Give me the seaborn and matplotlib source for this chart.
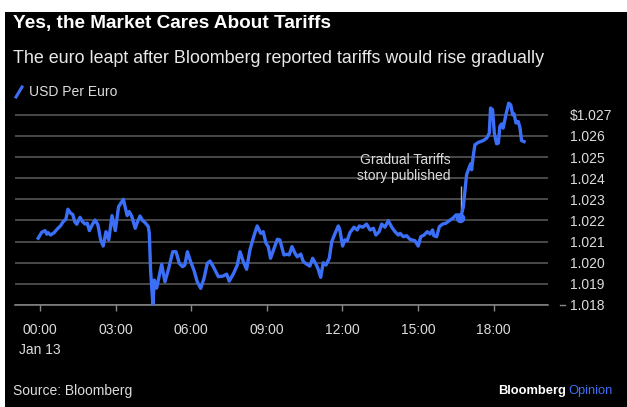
import matplotlib
matplotlib.use("Agg")
import matplotlib.pyplot as plt
import matplotlib.transforms as mtransforms
from matplotlib.lines import Line2D
from matplotlib.patches import Rectangle
import seaborn as sns
import pandas as pd

# ---------------- data ----------------
series_name = "USD Per Euro"
hours = [
    -0.07, 0.07, 0.20, 0.27, 0.33, 0.42, 0.56, 0.69, 0.82, 0.92,
    1.03, 1.11, 1.22, 1.30, 1.38, 1.46, 1.59, 1.69, 1.79, 1.88,
    1.96, 2.09, 2.19, 2.30, 2.41, 2.51, 2.62, 2.73, 2.86, 2.99,
    3.12, 3.31, 3.46, 3.54, 3.64, 3.78, 3.86, 3.97, 4.08, 4.17,
    4.30, 4.34, 4.39, 4.48, 4.54, 4.63, 4.83, 4.96, 5.09, 5.27,
    5.40, 5.53, 5.66, 5.75, 5.85, 5.98, 6.11, 6.24, 6.38, 6.51,
    6.64, 6.75, 6.88, 7.08, 7.27, 7.41, 7.51, 7.67, 7.83, 7.94,
    8.07, 8.20, 8.33, 8.49, 8.62, 8.76, 8.86, 8.97, 9.06, 9.15,
    9.29, 9.42, 9.52, 9.68, 9.81, 9.89, 10.00, 10.12, 10.21, 10.35,
    10.45, 10.58, 10.71, 10.82, 10.95, 11.03, 11.14, 11.24, 11.35, 11.48,
    11.58, 11.71, 11.84, 11.90, 12.01, 12.10, 12.19, 12.30, 12.46, 12.59,
    12.67, 12.81, 12.96, 13.10, 13.23, 13.33, 13.46, 13.56, 13.69, 13.82,
    13.96, 14.09, 14.22, 14.29, 14.42, 14.55, 14.68, 14.88, 15.01, 15.11,
    15.24, 15.37, 15.48, 15.58, 15.63, 15.74, 15.85, 15.98, 16.11, 16.24,
    16.38, 16.51, 16.64, 16.69, 16.80, 16.87, 16.93, 17.02, 17.09, 17.13,
    17.19, 17.26, 17.39, 17.59, 17.73, 17.83, 17.88, 17.96, 18.03, 18.12,
    18.19, 18.25, 18.32, 18.38, 18.49, 18.60, 18.68, 18.76, 18.81, 18.89,
    18.98, 19.05, 19.11, 19.21,
]
usd_per_euro = [
    1.02116, 1.02144, 1.02152, 1.02135, 1.02142, 1.02131, 1.02142, 1.02160, 1.02175, 1.02194,
    1.02206, 1.02253, 1.02234, 1.02229, 1.02194, 1.02182, 1.02215, 1.02194, 1.02183, 1.02187,
    1.02152, 1.02183, 1.02202, 1.02179, 1.02108, 1.02079, 1.02147, 1.02108, 1.02223, 1.02152,
    1.02265, 1.02300, 1.02223, 1.02242, 1.02221, 1.02163, 1.02190, 1.02221, 1.02199, 1.02190,
    1.02171, 1.02139, 1.01965, 1.01804, 1.01918, 1.01880, 1.01992, 1.01910, 1.01965, 1.02052,
    1.02052, 1.01997, 1.01981, 1.01989, 1.02052, 1.02005, 1.01965, 1.01910, 1.01879, 1.01926,
    1.01997, 1.02008, 1.01981, 1.01934, 1.01937, 1.01946, 1.01913, 1.01946, 1.01989, 1.02052,
    1.02005, 1.01969, 1.02060, 1.02127, 1.02174, 1.02139, 1.02147, 1.02092, 1.02076, 1.02021,
    1.02068, 1.02111, 1.02108, 1.02037, 1.02040, 1.02037, 1.02076, 1.02045, 1.02028, 1.02041,
    1.02005, 1.01994, 1.01984, 1.02021, 1.01994, 1.01973, 1.01931, 1.02000, 1.01989, 1.02021,
    1.02100, 1.02139, 1.02174, 1.02155, 1.02079, 1.02108, 1.02104, 1.02142, 1.02168, 1.02155,
    1.02174, 1.02168, 1.02183, 1.02155, 1.02163, 1.02131, 1.02147, 1.02183, 1.02168, 1.02199,
    1.02168, 1.02147, 1.02131, 1.02139, 1.02123, 1.02128, 1.02111, 1.02104, 1.02079, 1.02123,
    1.02131, 1.02147, 1.02136, 1.02155, 1.02128, 1.02123, 1.02171, 1.02183, 1.02187, 1.02199,
    1.02210, 1.02226, 1.02226, 1.02210, 1.02265, 1.02345, 1.02416, 1.02447, 1.02468, 1.02440,
    1.02502, 1.02558, 1.02569, 1.02578, 1.02590, 1.02613, 1.02732, 1.02724, 1.02613, 1.02563,
    1.02566, 1.02645, 1.02657, 1.02637, 1.02700, 1.02755, 1.02747, 1.02700, 1.02705, 1.02661,
    1.02668, 1.02637, 1.02578, 1.02573,
]
x_tick_hours = [0, 3, 6, 9, 12, 15, 18]
x_tick_labels = ["00:00\nJan 13", "03:00", "06:00", "09:00", "12:00", "15:00", "18:00"]
y_tick_values = [1.018, 1.019, 1.020, 1.021, 1.022, 1.023, 1.024, 1.025, 1.026, 1.027]
y_tick_labels = ["1.018", "1.019", "1.020", "1.021", "1.022", "1.023", "1.024", "1.025", "1.026", "$1.027"]
story_hour = 16.69
story_value = 1.0221
story_label = "Gradual Tariffs\nstory published"

title = "Yes, the Market Cares About Tariffs"
subtitle = "The euro leapt after Bloomberg reported tariffs would rise gradually"
source = "Source: Bloomberg"

# ---------------- style ----------------
BLUE = "#3b6ff7"
GRID = "#555555"
BASE = "#8a8a8a"
TXT = "#dcdcdc"

plt.rcParams["font.family"] = ["Liberation Sans", "DejaVu Sans"]

W, H = 627, 407
fig = plt.figure(figsize=(W / 100, H / 100), dpi=100, facecolor="white")
fig.patches.append(Rectangle((5 / W, 0), (W - 5) / W, (H - 12) / H,
                             transform=fig.transFigure, facecolor="black",
                             edgecolor="none", zorder=-10))


def fx(px):
    return px / W


def fy(py):
    return 1 - py / H


ax_left, ax_right, ax_top, ax_bottom = 15, 548, 100, 305
ax = fig.add_axes([fx(ax_left), fy(ax_bottom), (ax_right - ax_left) / W, (ax_bottom - ax_top) / H])
ax.set_facecolor("none")

df = pd.DataFrame({"hour": hours, series_name: usd_per_euro})
sns.lineplot(data=df, x="hour", y=series_name, ax=ax, color=BLUE, linewidth=2.4,
             legend=False, zorder=5)
for ln in ax.lines:
    ln.set_clip_on(False)
    ln.set_solid_joinstyle("round")

ax.set_xlim(-0.99, 20.16)
ax.set_ylim(y_tick_values[0], 1.0277)

for s in ["top", "left", "right"]:
    ax.spines[s].set_visible(False)
ax.spines["bottom"].set_color(BASE)
ax.spines["bottom"].set_linewidth(1.1)

ax.set_yticks(y_tick_values)
ax.set_yticklabels(y_tick_labels)
ax.yaxis.tick_right()
ax.tick_params(axis="y", length=0, pad=15.8, labelcolor=TXT, labelsize=10)
ax.yaxis.grid(True, color=GRID, linewidth=1.2)
ax.set_axisbelow(True)

ax.set_xticks(x_tick_hours)
ax.set_xticklabels(x_tick_labels)
ax.tick_params(axis="x", direction="out", length=4, width=1, color=BASE,
               pad=9, labelcolor=TXT, labelsize=10)
for lab in ax.get_xticklabels():
    lab.set_linespacing(1.5)
    lab.set_verticalalignment("top")
ax.set_xlabel("")
ax.set_ylabel("")

# small dash beside the baseline label
blend = mtransforms.blended_transform_factory(ax.transAxes, ax.transData)
ax.plot([(560 - ax_left) / (ax_right - ax_left), (565 - ax_left) / (ax_right - ax_left)],
        [y_tick_values[0]] * 2, transform=blend, clip_on=False, color=BASE, lw=1)

# story marker + annotation
ax.scatter([story_hour], [story_value], s=48, color=BLUE, zorder=6, clip_on=False,
           edgecolors="none")
ax.vlines(story_hour, story_value + 0.0003, story_value + 0.00155, color="#b0b0b0", lw=1, zorder=4)
ax.annotate(story_label, xy=(story_hour, story_value + 0.00155), xytext=(-7, 2),
            textcoords="offset points", ha="right", va="bottom", color=TXT,
            fontsize=10, linespacing=1.15)

# titles
fig.text(fx(13), fy(28), title, color="white", fontsize=13.7, fontweight="bold", va="baseline")
fig.text(fx(13), fy(63), subtitle, color="#e8e8e8", fontsize=12.9, va="baseline")

# legend
fig.add_artist(Line2D([fx(16), fx(22)], [fy(97), fy(87)], color=BLUE, lw=2.2))
fig.text(fx(29), fy(92), series_name, color=TXT, fontsize=10, va="center")

# footer
fig.text(fx(13), fy(391), source, color=TXT, fontsize=10, va="center")
op = fig.text(fx(613), fy(391), "Opinion", color=BLUE, fontsize=9.3, va="center", ha="right")
fig.canvas.draw()
bb = op.get_window_extent()
fig.text((bb.x0 - 3) / W, fy(391), "Bloomberg", color="white", fontsize=9.3,
         fontweight="bold", va="center", ha="right")

fig.savefig("out.png", dpi=100, facecolor="white")
